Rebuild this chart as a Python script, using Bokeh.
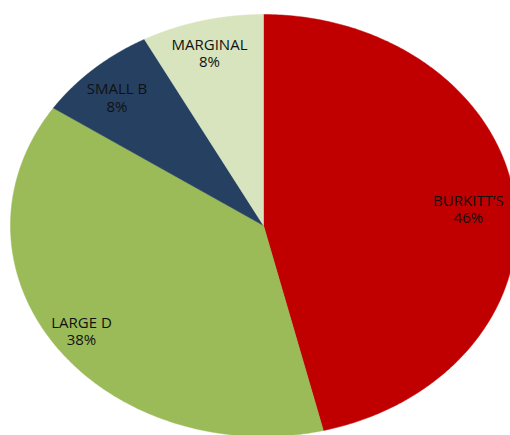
import numpy as np
from bokeh.plotting import figure
from bokeh.models import ColumnDataSource
from bokeh.core.properties import value
from bokeh.embed import file_html
from bokeh.resources import INLINE

# Data
categories = ["BURKITT\u2019S", "LARGE D", "SMALL B", "MARGINAL"]
percents = [46.2, 38.2, 7.8, 7.8]
colors = ["#C00000", "#9BBB59", "#264062", "#D7E4BD"]

# Label placement (style): radial fraction and small angular nudge (degrees)
label_radius = [0.813, 0.879, 0.835, 0.839]
label_nudge = [1.8, -0.15, -1.8, -0.7]

W, H = 510, 435
cx_px, cy_px = 263, 225   # pie centre in figure pixels (from top-left)
rx_px, ry_px = 253, 211   # ellipse radii in pixels

x_start = -cx_px / rx_px
x_end = (W - cx_px) / rx_px
y_end = cy_px / ry_px
y_start = -(H - cy_px) / ry_px

p = figure(width=W, height=H, x_range=(x_start, x_end), y_range=(y_start, y_end),
           output_backend="svg", toolbar_location=None, min_border=0)
p.axis.visible = False
p.grid.visible = False
p.outline_line_color = None
p.background_fill_color = "white"
p.border_fill_color = "white"

total = float(sum(percents))
fracs = np.array(percents) / total
starts = np.concatenate([[0.0], np.cumsum(fracs)[:-1]])
ends = np.cumsum(fracs)

xs, ys = [], []
for s, e in zip(starts, ends):
    t = np.linspace(s, e, 240) * 2 * np.pi  # clockwise from 12 o'clock
    xs.append(np.concatenate([[0.0], np.sin(t), [0.0]]).tolist())
    ys.append(np.concatenate([[0.0], np.cos(t), [0.0]]).tolist())

src = ColumnDataSource(dict(xs=xs, ys=ys, color=colors))
p.patches("xs", "ys", fill_color="color", line_color="color", line_width=0.5, source=src)

mids = (starts + ends) / 2 * 2 * np.pi + np.radians(label_nudge)
lx = np.array(label_radius) * np.sin(mids)
ly = np.array(label_radius) * np.cos(mids)
lsrc = ColumnDataSource(dict(x=lx, y=ly, name=categories,
                             pct=[f"{round(v):d}%" for v in percents]))
common = dict(source=lsrc, text_align="center", text_baseline="middle",
              text_font=value("Open Sans"), text_font_size="15px", text_color="#111111")
p.text("x", "y", text="name", y_offset=-10.5, **common)
p.text("x", "y", text="pct", y_offset=7, **common)

open("out.html", "w").write(file_html(p, INLINE))
